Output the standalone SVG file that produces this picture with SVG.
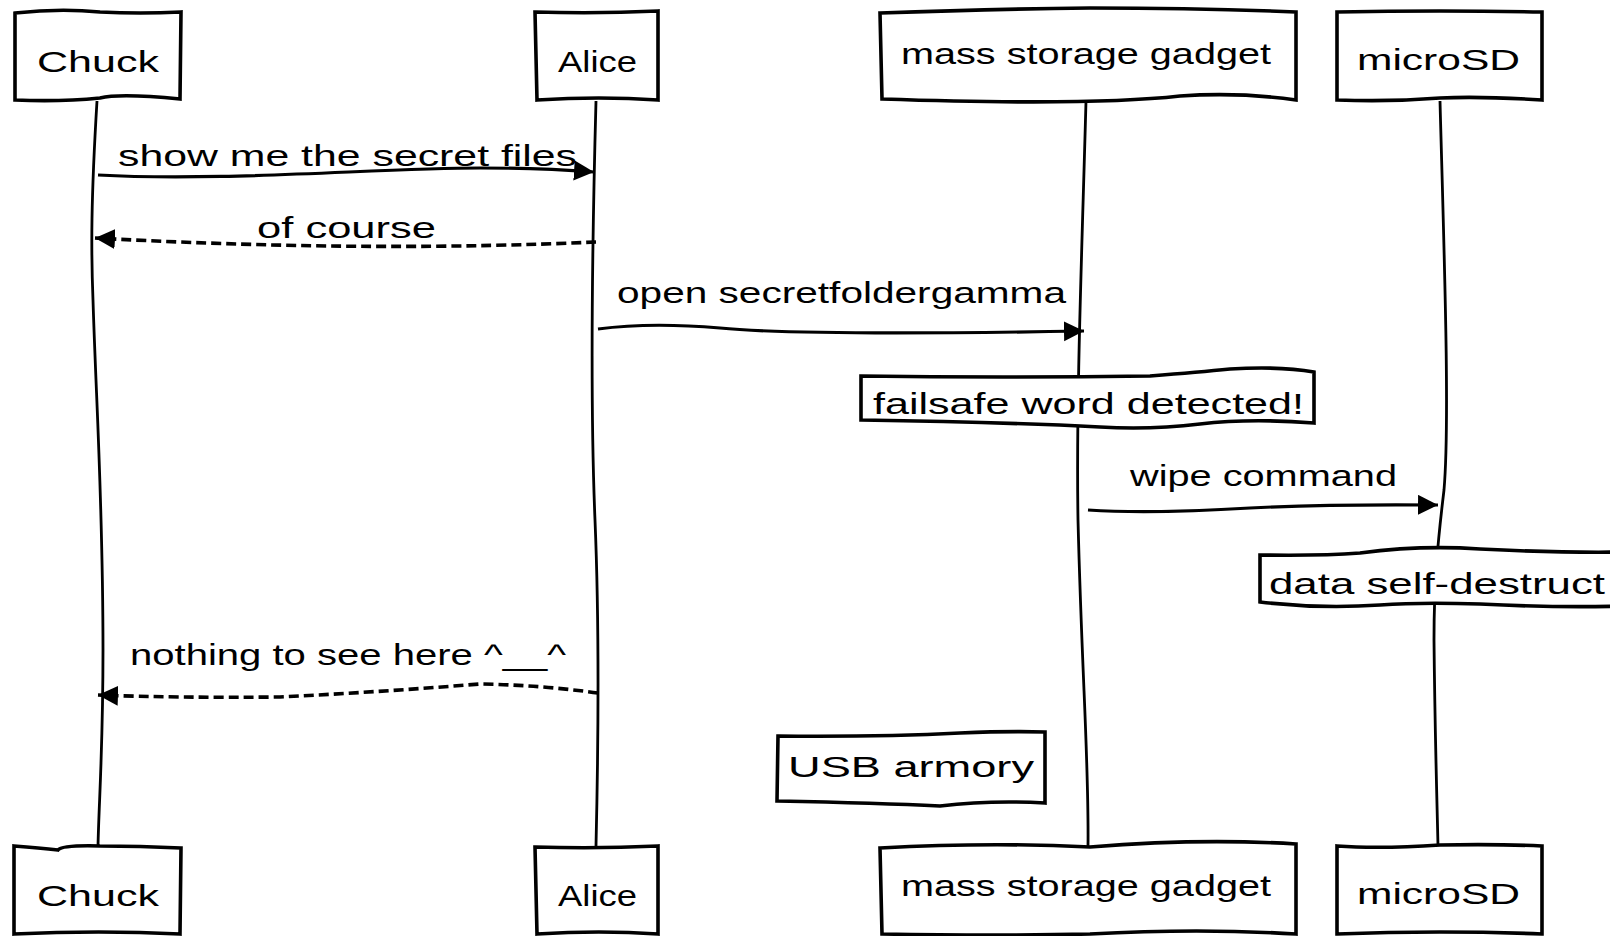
<svg xmlns="http://www.w3.org/2000/svg" width="1610" height="936" viewBox="0 0 1610 936">
<style>
.box{fill:#fff;stroke:#000;stroke-width:3.6;stroke-linejoin:miter}
.life{fill:none;stroke:#000;stroke-width:2.8}
.msg{fill:none;stroke:#000;stroke-width:3.2}
.dash{stroke-dasharray:10 5;stroke-width:3.6}
.t{font-family:"Liberation Sans",Arial,sans-serif;font-size:30px;fill:#000}
</style>
<defs>
<marker id="ah" markerUnits="userSpaceOnUse" markerWidth="22" markerHeight="22" refX="20" refY="10" orient="auto">
<path d="M0,0 L20,10 L0,20 Z" fill="#000"/>
</marker>
</defs>
<rect width="1610" height="936" fill="#fff"/>
<g id="lifelines">
<path class="life" d="M97 101 C91 200 91 250 93 300 C96 400 103 500 103 650 C103 750 99 800 98 846"/>
<path class="life" d="M596 101 C592 250 590 400 595 520 C600 640 598 760 596 846"/>
<path class="life" d="M1086 101 C1082 250 1076 400 1078 520 C1082 680 1089 760 1088 846"/>
<path class="life" d="M1440 101 C1444 250 1450 420 1444 490 C1438 540 1434 580 1434 640 C1435 740 1437 800 1438 846"/>
</g>
<g id="p-chuck-top">
<path class="box" d="M15 13 Q60 8 100 12 Q140 14 181 12 L180 99 Q120 93 100 98 Q60 102 15 100 Z"/>
<text class="t" x="37" y="72" textLength="122" lengthAdjust="spacingAndGlyphs">Chuck</text>
</g>
<g id="p-alice-top">
<path class="box" d="M535 12 Q596 14 658 11 L658 100 Q600 96 537 100 Z"/>
<text class="t" x="558" y="72" textLength="79" lengthAdjust="spacingAndGlyphs">Alice</text>
</g>
<g id="p-msg-top">
<path class="box" d="M880 13 Q990 9 1090 8 Q1200 8 1296 12 L1296 100 Q1240 92 1180 96 Q1090 106 882 99 Z"/>
<text class="t" x="901" y="64" textLength="370" lengthAdjust="spacingAndGlyphs">mass storage gadget</text>
</g>
<g id="p-microsd-top">
<path class="box" d="M1337 12 Q1440 10 1542 12 L1542 100 Q1480 96 1440 98 Q1390 102 1337 100 Z"/>
<text class="t" x="1357" y="70" textLength="163" lengthAdjust="spacingAndGlyphs">microSD</text>
</g>
<g id="connectors">
<path class="msg" d="M98 175 C220 182 380 168 480 168 Q540 168 594 172" marker-end="url(#ah)"/>
<path class="msg dash" d="M596 242 C460 248 300 249 95 238" marker-end="url(#ah)"/>
<path class="msg" d="M598 329 Q650 322 720 328 Q800 336 1084 331" marker-end="url(#ah)"/>
<path class="msg" d="M1088 510 Q1150 514 1250 508 Q1330 504 1438 505" marker-end="url(#ah)"/>
<path class="msg dash" d="M598 693 Q540 685 480 684 Q380 692 280 697 Q180 698 98 695" marker-end="url(#ah)"/>
</g>
<g id="labels">
<text class="t" x="118" y="166" textLength="459" lengthAdjust="spacingAndGlyphs">show me the secret files</text>
<text class="t" x="257" y="238" textLength="179" lengthAdjust="spacingAndGlyphs">of course</text>
<text class="t" x="617" y="303" textLength="449" lengthAdjust="spacingAndGlyphs">open secretfoldergamma</text>
<text class="t" x="1130" y="486" textLength="267" lengthAdjust="spacingAndGlyphs">wipe command</text>
<text class="t" x="130" y="665" textLength="436" lengthAdjust="spacingAndGlyphs">nothing to see here ^__^</text>
</g>
<g id="note-failsafe">
<path class="box" d="M861 376 Q1000 378 1150 376 Q1200 372 1230 369 Q1280 366 1314 372 L1314 423 Q1250 418 1200 424 Q1150 430 1100 427 Q1000 422 861 420 Z"/>
<text class="t" x="873" y="414" textLength="431" lengthAdjust="spacingAndGlyphs">failsafe word detected!</text>
</g>
<g id="note-destruct">
<path class="box" d="M1260 555 Q1320 556 1360 553 Q1420 545 1480 549 Q1560 553 1625 552 L1625 606 Q1560 608 1480 604 Q1420 602 1380 605 Q1320 609 1260 602 Z"/>
<text class="t" x="1269" y="594" textLength="336" lengthAdjust="spacingAndGlyphs">data self-destruct</text>
</g>
<g id="note-usb">
<path class="box" d="M778 736 Q880 737 960 733 Q1010 731 1045 732 L1045 803 Q990 800 940 806 Q880 803 777 801 Z"/>
<text class="t" x="788" y="777" textLength="246" lengthAdjust="spacingAndGlyphs">USB armory</text>
</g>
<g id="p-chuck-bottom">
<path class="box" d="M14 846 Q40 848 58 850 Q62 845 100 846 Q140 846 181 848 L180 934 Q100 930 14 934 Z"/>
<text class="t" x="37" y="906" textLength="122" lengthAdjust="spacingAndGlyphs">Chuck</text>
</g>
<g id="p-alice-bottom">
<path class="box" d="M535 847 Q596 849 658 846 L658 934 Q600 930 537 934 Z"/>
<text class="t" x="558" y="906" textLength="79" lengthAdjust="spacingAndGlyphs">Alice</text>
</g>
<g id="p-msg-bottom">
<path class="box" d="M880 848 Q990 842 1090 847 Q1200 838 1296 844 L1296 934 Q1200 928 1090 934 Q1000 936 882 934 Z"/>
<text class="t" x="901" y="896" textLength="370" lengthAdjust="spacingAndGlyphs">mass storage gadget</text>
</g>
<g id="p-microsd-bottom">
<path class="box" d="M1337 846 Q1380 849 1440 845 Q1500 844 1542 846 L1542 934 Q1440 930 1337 934 Z"/>
<text class="t" x="1357" y="904" textLength="163" lengthAdjust="spacingAndGlyphs">microSD</text>
</g>
</svg>
